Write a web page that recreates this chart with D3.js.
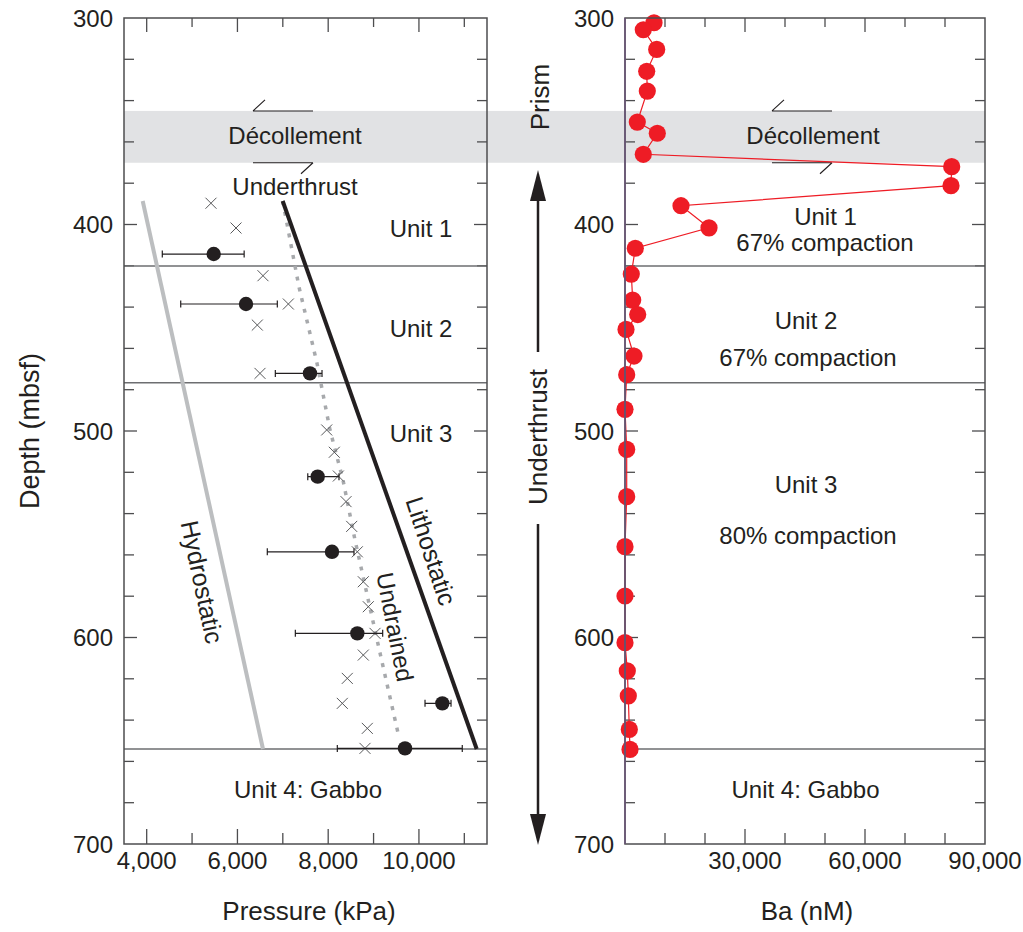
<!DOCTYPE html>
<html>
<head>
<meta charset="utf-8">
<script src="https://cdn.jsdelivr.net/npm/d3@7"></script>
<style>
  html, body { margin: 0; padding: 0; background: #fff; }
  svg text { font-family: "Liberation Sans", Arial, Helvetica, sans-serif; fill: #231f20; }
</style>
</head>
<body>
<svg id="chart" width="1023" height="932"></svg>
<script>
// ---------------- DATA ----------------
const depthTickLabels = [300, 400, 500, 600, 700];
const pressureTickLabels = [4000, 6000, 8000, 10000];
const baTickLabels = [30000, 60000, 90000];

// unit boundaries (mbsf)
const unitBoundaries = [420.1, 476.6, 654.0];
const decollementTop = 345.0;
const decollementBottom = 370.1;

// pressure curves: [pressure kPa, depth mbsf]
const hydrostatic = [[3912, 388.6], [6563, 654.0]];
const lithostatic = [[6997, 388.6], [11273, 654.0]];
const undrained = [[6997, 388.6], [7357, 430.3], [7753, 467.1], [8040, 499.5], [8326, 523.7],
                   [8591, 552.8], [9142, 607.5], [9539, 646.2]];

// measured pressure (filled circles) with error range
const measDepth = [414.3, 438.5, 472.1, 522.1, 558.5, 598.0, 631.9, 653.7];
const measPressure = [5477, 6189, 7599, 7768, 8084, 8642, 10516, 9693];
const measLow = [4344, 4750, 6835, 7550, 6658, 7276, 10134, 8201];
const measHigh = [6148, 6879, 7864, 8238, 8569, 9201, 10707, 10955];

// estimated pressure (crosses)
const crossDepth = [389.7, 401.7, 424.8, 438.5, 448.7, 472.1, 499.5, 510.3, 521.8, 534.2,
                    546.2, 558.5, 573.0, 585.1, 598.0, 608.5, 619.8, 631.9, 644.0, 653.7];
const crossPressure = [5417, 5968, 6563, 7122, 6438, 6497, 7967, 8135, 8224, 8393,
                       8518, 8642, 8774, 8884, 9032, 8774, 8421, 8311, 8862, 8811];

// Ba profile
const baDepth = [302.3, 305.7, 315.2, 325.8, 335.4, 350.4, 355.8, 366.0, 372.0, 381.2,
                 390.9, 401.6, 411.5, 424.0, 436.6, 443.6, 450.8, 463.7, 472.7, 489.5,
                 508.9, 531.8, 556.0, 579.9, 602.5, 616.2, 628.3, 644.5, 654.2];
const baValue = [7250, 4575, 7925, 5425, 5575, 3075, 8075, 4575, 81675, 81500,
                 14000, 21000, 2575, 1575, 1925, 3175, 250, 2250, 425, 0,
                 425, 425, 0, 0, 0, 575, 825, 1075, 1250];

// ---------------- LAYOUT ----------------
const svg = d3.select("#chart");
const INK = "#231f20";
const FRAME = "#4d4d4f";
const y = d3.scaleLinear().domain([300, 700]).range([18, 844]);
const xL = d3.scaleLinear().domain([3500, 11500]).range([124, 487]);
const xR = d3.scaleLinear().domain([0, 90000]).range([625, 985]);
const fmt = d3.format(",");

// décollement band spanning both panels
svg.append("rect")
  .attr("x", xL.range()[0]).attr("width", xR.range()[1] - xL.range()[0])
  .attr("y", y(decollementTop)).attr("height", y(decollementBottom) - y(decollementTop))
  .attr("fill", "#e1e2e4");

function panelFrame(x, minorStep, majorSet, labels) {
  const g = svg.append("g");
  const [x0, x1] = x.range();
  const [y0, y1] = y.range();
  const dTicks = d3.range(300, 701, 20);
  dTicks.forEach(d => {
    const major = d % 100 === 0;
    const len = major ? 13 : 10;
    if (d !== 300 && d !== 700) {
      g.append("line").attr("x1", x0).attr("x2", x0 + len).attr("y1", y(d)).attr("y2", y(d))
        .attr("stroke", FRAME).attr("stroke-width", 1.3);
      g.append("line").attr("x1", x1).attr("x2", x1 - len).attr("y1", y(d)).attr("y2", y(d))
        .attr("stroke", FRAME).attr("stroke-width", 1.3);
    }
  });
  depthTickLabels.forEach(d => {
    g.append("text").attr("x", x0 - 11).attr("y", y(d)).attr("dy", "0.36em")
      .attr("text-anchor", "end").attr("font-size", 24).text(d);
  });
  const xd = x.domain();
  for (let v = Math.ceil(xd[0] / minorStep) * minorStep; v < xd[1]; v += minorStep) {
    if (v <= xd[0]) continue;
    const major = majorSet.includes(v);
    g.append("line").attr("x1", x(v)).attr("x2", x(v)).attr("y1", y0).attr("y2", y0 + (major ? 14 : 9))
      .attr("stroke", FRAME).attr("stroke-width", 1.3);
    g.append("line").attr("x1", x(v)).attr("x2", x(v)).attr("y1", y1).attr("y2", y1 - (major ? 15 : 11))
      .attr("stroke", FRAME).attr("stroke-width", 1.3);
  }
  labels.forEach(v => {
    g.append("text").attr("x", x(v)).attr("y", 869).attr("text-anchor", "middle")
      .attr("font-size", 24).text(fmt(v));
  });
  unitBoundaries.forEach(d => {
    g.append("line").attr("x1", x0).attr("x2", x1).attr("y1", y(d)).attr("y2", y(d))
      .attr("stroke", "#6d6e71").attr("stroke-width", 1.5);
  });
  return g;
}

const gL = panelFrame(xL, 1000, pressureTickLabels, pressureTickLabels);
const gR = panelFrame(xR, 10000, baTickLabels, baTickLabels);

// shear-sense half arrows
function shear(cx) {
  const yt = y(decollementTop), yb = y(decollementBottom);
  svg.append("path").attr("d", `M${cx - 30},${yt} L${cx + 30},${yt} M${cx - 30},${yt} L${cx - 18},${yt - 11}`)
    .attr("stroke", INK).attr("stroke-width", 1.1).attr("fill", "none");
  svg.append("path").attr("d", `M${cx - 30},${yb} L${cx + 30},${yb} M${cx + 30},${yb} L${cx + 18},${yb + 11}`)
    .attr("stroke", INK).attr("stroke-width", 1.1).attr("fill", "none");
}
shear(283);
shear(802);

// ---------------- LEFT PANEL MARKS ----------------
const line = d3.line().x(d => xL(d[0])).y(d => y(d[1]));
svg.append("path").datum(hydrostatic).attr("d", line)
  .attr("stroke", "#bcbec0").attr("stroke-width", 4).attr("fill", "none");
svg.append("path").datum(undrained).attr("d", line)
  .attr("stroke", "#a7a9ac").attr("stroke-width", 3.5).attr("stroke-dasharray", "4,7").attr("fill", "none");
svg.append("path").datum(lithostatic).attr("d", line)
  .attr("stroke", INK).attr("stroke-width", 4).attr("fill", "none");

const cs = 5.5;
crossDepth.forEach((d, i) => {
  const cx = xL(crossPressure[i]), cy = y(d);
  svg.append("path").attr("d", `M${cx - cs},${cy - cs}L${cx + cs},${cy + cs}M${cx - cs},${cy + cs}L${cx + cs},${cy - cs}`)
    .attr("stroke", "#58595b").attr("stroke-width", 1);
});

measDepth.forEach((d, i) => {
  const cy = y(d);
  const a = xL(measLow[i]), b = xL(measHigh[i]);
  svg.append("path").attr("d", `M${a},${cy}L${b},${cy}M${a},${cy - 3.5}L${a},${cy + 3.5}M${b},${cy - 3.5}L${b},${cy + 3.5}`)
    .attr("stroke", INK).attr("stroke-width", 1.2).attr("fill", "none");
  svg.append("circle").attr("cx", xL(measPressure[i])).attr("cy", cy).attr("r", 7.2).attr("fill", INK);
});

// ---------------- RIGHT PANEL MARKS ----------------
const baPts = baDepth.map((d, i) => [baValue[i], d]);
svg.append("path").datum(baPts)
  .attr("d", d3.line().x(d => xR(d[0])).y(d => y(d[1])))
  .attr("stroke", "#ee1c25").attr("stroke-width", 1.2).attr("fill", "none");
svg.selectAll("circle.ba").data(baPts).enter().append("circle").attr("class", "ba")
  .attr("cx", d => xR(d[0])).attr("cy", d => y(d[1])).attr("r", 8.6).attr("fill", "#ee1c25");

// ---------------- FRAMES ----------------
[xL, xR].forEach(x => {
  const [x0, x1] = x.range();
  svg.append("rect").attr("x", x0).attr("y", y(300)).attr("width", x1 - x0).attr("height", y(700) - y(300))
    .attr("fill", "none").attr("stroke", FRAME).attr("stroke-width", 1.5);
});
svg.append("line").attr("x1", xR(0)).attr("x2", xR(0)).attr("y1", y(300)).attr("y2", y(700))
  .attr("stroke", "#6a5478").attr("stroke-width", 1.5);

// ---------------- TEXT ----------------
function txt(x, yy, s, size, rot) {
  const t = svg.append("text").attr("font-size", size).attr("text-anchor", "middle").text(s);
  if (rot) {
    t.attr("transform", `translate(${x},${yy}) rotate(${rot})`).attr("dy", "0.35em");
  } else {
    t.attr("x", x).attr("y", yy);
  }
  return t;
}
txt(295, 144, "Décollement", 24);
txt(295, 195, "Underthrust", 24);
txt(421, 237, "Unit 1", 24);
txt(421, 337, "Unit 2", 24);
txt(421, 442, "Unit 3", 24);
txt(308, 798, "Unit 4: Gabbo", 24);
txt(202, 582, "Hydrostatic", 25, 78);
txt(431, 551, "Lithostatic", 25, 72);
txt(395, 627, "Undrained", 24, 79);
txt(813, 144, "Décollement", 24);
txt(825.5, 225, "Unit 1", 24);
txt(825, 251, "67% compaction", 24);
txt(806, 329, "Unit 2", 24);
txt(808, 366, "67% compaction", 24);
txt(806, 493, "Unit 3", 24);
txt(808, 544, "80% compaction", 24);
txt(805.5, 798, "Unit 4: Gabbo", 24);

txt(309, 920, "Pressure (kPa)", 26);
txt(807, 920, "Ba (nM)", 26);
txt(30, 431, "Depth (mbsf)", 27, -90);

txt(540, 97, "Prism", 26, -90);
txt(538, 437, "Underthrust", 26, -90);
const ax = 538;
svg.append("line").attr("x1", ax).attr("x2", ax).attr("y1", 196).attr("y2", 352)
  .attr("stroke", INK).attr("stroke-width", 2.5);
svg.append("line").attr("x1", ax).attr("x2", ax).attr("y1", 524).attr("y2", 818)
  .attr("stroke", INK).attr("stroke-width", 2.5);
svg.append("path").attr("d", `M${ax},170 L${ax + 8},201 L${ax - 8},201 Z`).attr("fill", INK);
svg.append("path").attr("d", `M${ax},845 L${ax + 8},814 L${ax - 8},814 Z`).attr("fill", INK);
</script>
</body>
</html>
